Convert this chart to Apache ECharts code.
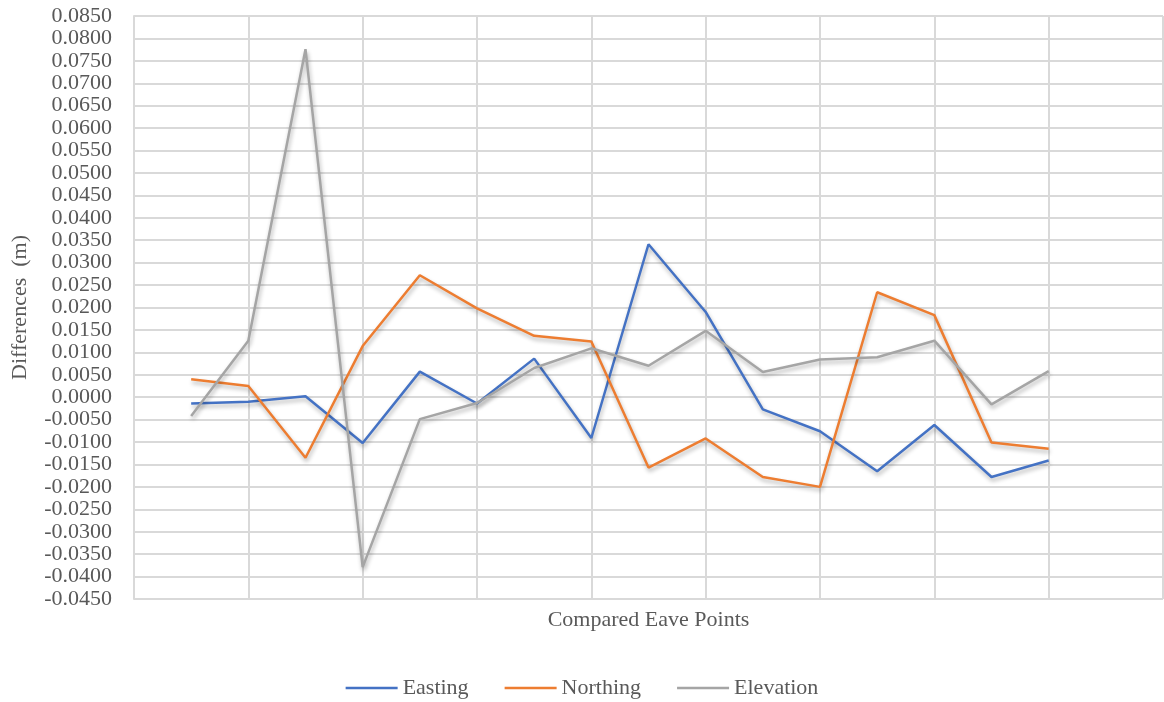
<!DOCTYPE html>
<html lang="en">
<head>
    <meta charset="UTF-8">
    <title>Compared Eave Points</title>
    <script src="https://cdn.jsdelivr.net/npm/echarts@6/dist/echarts.min.js"></script>
    <style>
        html, body { margin: 0; padding: 0; background: #fff; }
    </style>
</head>
<body>
    <div id="box" style="width: 1164px; height: 702px;"></div>
</body>
<script>
    // point numbers along the x axis (axis runs 0..18, grid every 2)
    var points = [1, 2, 3, 4, 5, 6, 7, 8, 9, 10, 11, 12, 13, 14, 15, 16]
    var easting = [-0.0014, -0.0010, 0.0002, -0.0102, 0.0057, -0.0014, 0.0086, -0.0091,
        0.0341, 0.0190, -0.0027, -0.0076, -0.0165, -0.0062, -0.0178, -0.0141]
    var northing = [0.0040, 0.0025, -0.0135, 0.0114, 0.0272, 0.0198, 0.0137, 0.0124,
        -0.0157, -0.0092, -0.0178, -0.0200, 0.0234, 0.0183, -0.0101, -0.0115]
    var elevation = [-0.0042, 0.0126, 0.0776, -0.0379, -0.0049, -0.0013, 0.0065, 0.0109,
        0.0070, 0.0148, 0.0056, 0.0084, 0.0089, 0.0126, -0.0016, 0.0058]

    var font = '"Liberation Serif", "Times New Roman", serif'
    var gridColor = '#d9d9d9'

    function pairs(vals) {
        var out = []
        for (var i = 0; i < vals.length; i++) out.push([points[i], vals[i]])
        return out
    }

    function lineSeries(name, color, vals) {
        return {
            name: name,
            type: 'line',
            symbol: 'none',
            data: pairs(vals),
            lineStyle: {
                color: color,
                width: 2.5,
                shadowColor: 'rgba(0,0,0,0.3)',
                shadowBlur: 4,
                shadowOffsetX: 1,
                shadowOffsetY: 3
            },
            itemStyle: { color: color }
        }
    }

    var mEcharts = echarts.init(document.querySelector('#box'))
    var option = {
        animation: false,
        grid: { left: 134, right: 1, top: 16, bottom: 103 },
        xAxis: {
            type: 'value',
            min: 0,
            max: 18,
            interval: 2,
            name: 'Compared Eave Points',
            nameLocation: 'middle',
            nameGap: 10,
            nameTextStyle: { fontFamily: font, fontSize: 22, color: '#595959' },
            axisLine: { show: false },
            axisTick: { show: false },
            axisLabel: { show: false },
            splitLine: { show: true, lineStyle: { color: gridColor, width: 2 } }
        },
        yAxis: {
            type: 'value',
            min: -0.045,
            max: 0.085,
            interval: 0.005,
            name: 'Differences  (m)',
            nameLocation: 'middle',
            nameGap: 103,
            nameRotate: 90,
            nameTextStyle: { fontFamily: font, fontSize: 22, color: '#595959' },
            axisLine: { show: true, lineStyle: { color: gridColor, width: 2 } },
            axisTick: { show: false },
            axisLabel: {
                fontFamily: font,
                fontSize: 22,
                color: '#595959',
                margin: 22,
                formatter: function (v) {
                    if (Math.abs(v) < 1e-9) v = 0
                    return v.toFixed(4)
                }
            },
            splitLine: { show: true, lineStyle: { color: gridColor, width: 2 } }
        },
        legend: {
            top: 672,
            left: 'center',
            icon: 'rect',
            itemWidth: 52,
            itemHeight: 2.5,
            itemGap: 36,
            textStyle: { fontFamily: font, fontSize: 22, color: '#595959' },
            data: ['Easting', 'Northing', 'Elevation']
        },
        series: [
            lineSeries('Easting', '#4472C4', easting),
            lineSeries('Northing', '#ED7D31', northing),
            lineSeries('Elevation', '#A5A5A5', elevation)
        ]
    }
    mEcharts.setOption(option)
</script>
</html>
